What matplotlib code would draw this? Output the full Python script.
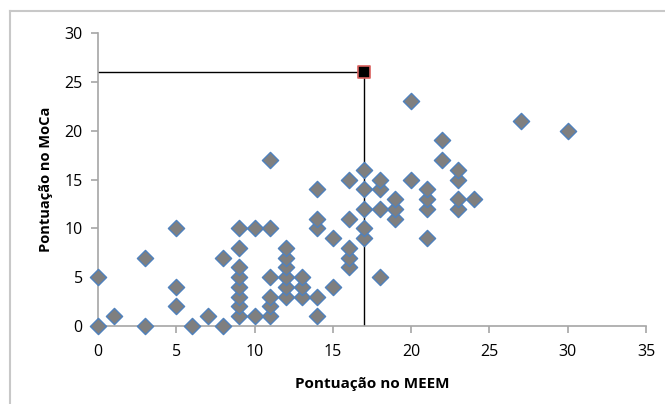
import matplotlib
matplotlib.use("Agg")
import matplotlib.pyplot as plt
from matplotlib.lines import Line2D

# ---- Data: (MEEM score, MoCa score) pairs ----
meem = [0, 0, 1, 3, 3, 5, 5, 5, 6, 7, 8, 8,
        9, 9, 9, 9, 9, 9, 9, 9,
        10, 10,
        11, 11, 11, 11, 11, 11,
        12, 12, 12, 12, 12, 12,
        13, 13, 13,
        14, 14, 14, 14, 14,
        15, 15,
        16, 16, 16, 16, 16,
        17, 17, 17, 17, 17,
        18, 18, 18, 18,
        19, 19, 19,
        20, 20,
        21, 21, 21, 21,
        22, 22,
        23, 23, 23, 23,
        24, 27, 30]
moca = [0, 5, 1, 0, 7, 2, 4, 10, 0, 1, 0, 7,
        1, 2, 3, 4, 5, 6, 8, 10,
        1, 10,
        1, 2, 3, 5, 10, 17,
        3, 4, 5, 6, 7, 8,
        3, 4, 5,
        1, 3, 10, 11, 14,
        4, 9,
        6, 7, 8, 11, 15,
        9, 10, 12, 14, 16,
        5, 12, 14, 15,
        11, 12, 13,
        15, 23,
        9, 12, 13, 14,
        17, 19,
        12, 13, 15, 16,
        13, 21, 20]

# cut-off point
cut_x = 17
cut_y = 26

plt.rcParams['font.family'] = ['Open Sans', 'DejaVu Sans']

fig = plt.figure(figsize=(6.65, 4.04), dpi=100)
ax = fig.add_axes([98 / 665, 1 - 326 / 404, 548 / 665, 293 / 404])

# reference lines to the cut-off point
ax.plot([0, cut_x], [cut_y, cut_y], color='black', lw=1, zorder=2)
ax.plot([cut_x, cut_x], [0, cut_y], color='black', lw=1, zorder=2)

ax.scatter(meem, moca, marker='D', s=68, facecolor='#7f7f7f',
           edgecolor='#4f81bd', linewidth=1, zorder=3, clip_on=False)
ax.scatter([cut_x], [cut_y], marker='s', s=80, facecolor='black',
           edgecolor='#d9605d', linewidth=1.2, zorder=4)

ax.set_xlim(0, 35)
ax.set_ylim(0, 30)
ax.set_xticks(range(0, 36, 5))
ax.set_yticks(range(0, 31, 5))

for side in ['top', 'right']:
    ax.spines[side].set_visible(False)
for side in ['left', 'bottom']:
    ax.spines[side].set_color('#a6a6a6')
    ax.spines[side].set_linewidth(1.2)
ax.tick_params(axis='both', colors='#a6a6a6', length=5, width=1.2,
               labelcolor='black', labelsize=11.5)
ax.tick_params(axis='x', pad=8)
ax.tick_params(axis='y', pad=6)

ax.set_xlabel('Pontuação no MEEM', fontsize=11, fontweight='bold', labelpad=12)
ax.set_ylabel('Pontuação no MoCa', fontsize=10.5, fontweight='bold', labelpad=8)

# outer chart frame (top and left edges visible)
fig.add_artist(Line2D([10 / 665, 1], [1 - 11 / 404, 1 - 11 / 404],
                      color='#c8c8c8', lw=1.5))
fig.add_artist(Line2D([10 / 665, 10 / 665], [0, 1 - 11 / 404],
                      color='#c8c8c8', lw=1.5))

fig.savefig('out.png', dpi=100)
